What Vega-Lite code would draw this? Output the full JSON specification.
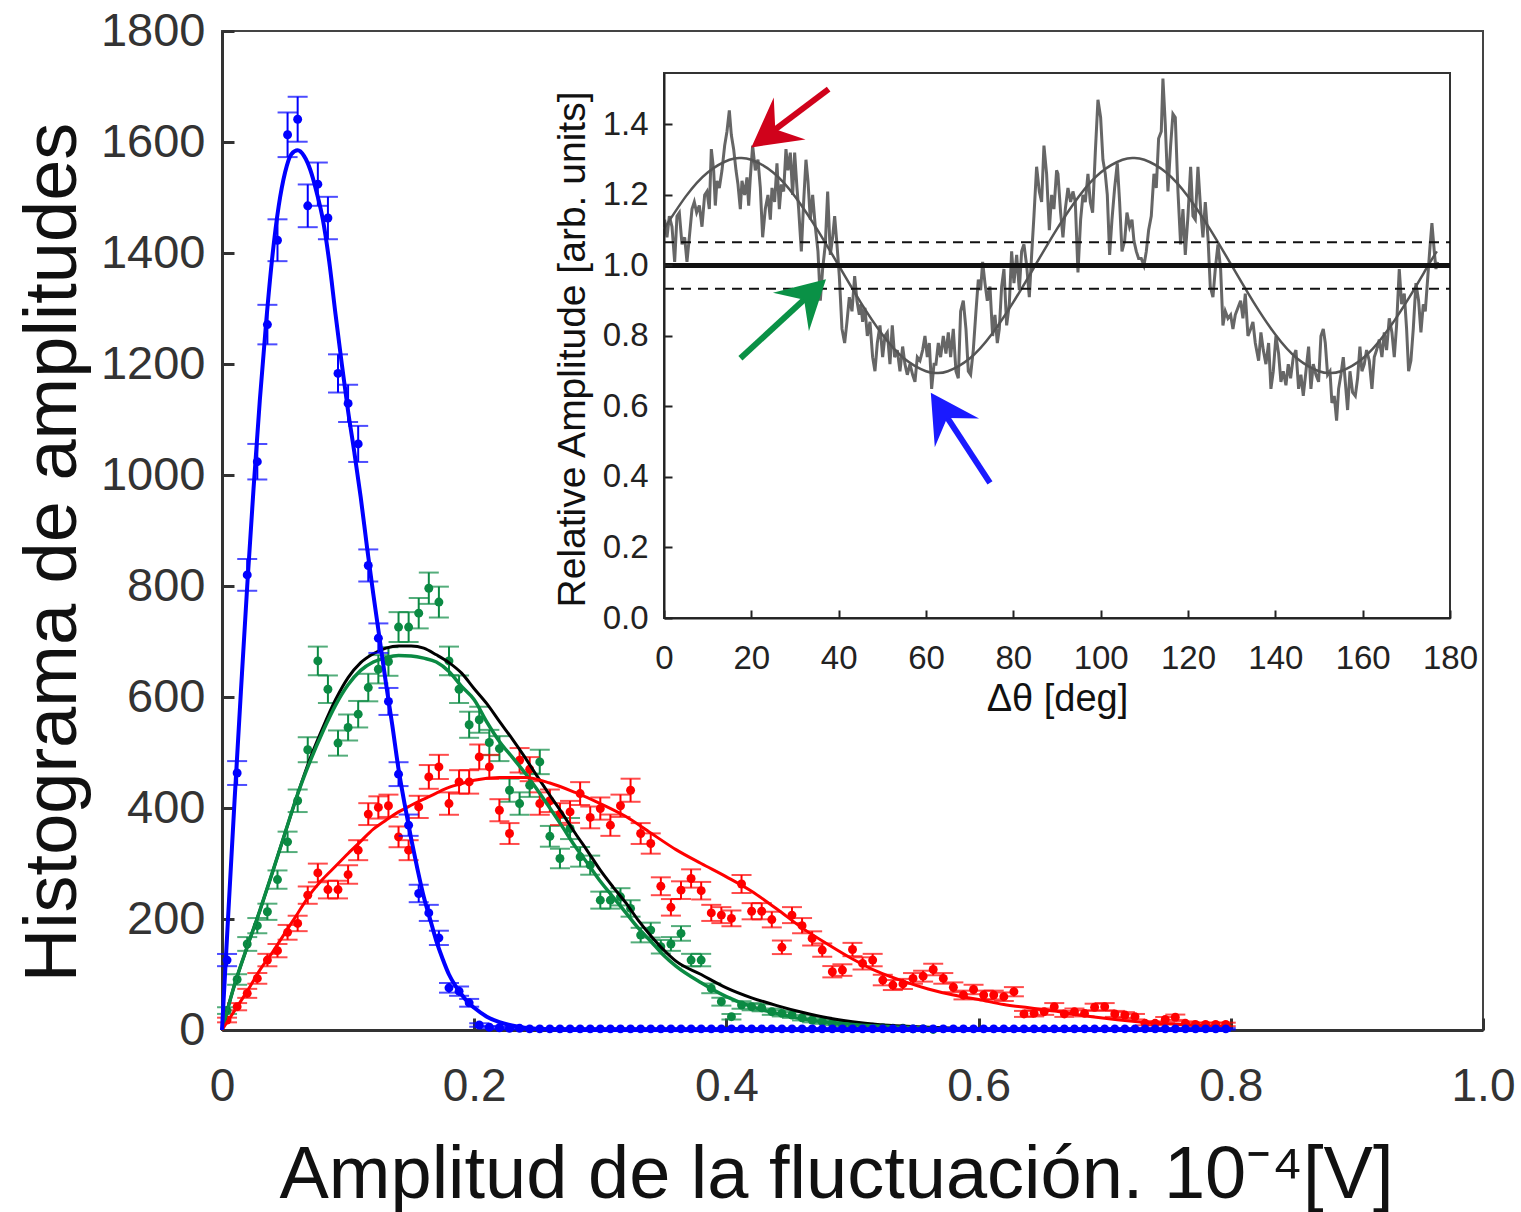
{
"$schema": "https://vega.github.io/schema/vega-lite/v6.json",
"width": 1261, "height": 999,
"autosize": {"type": "none"},
"padding": {"left": 222, "top": 31, "right": 38, "bottom": 182},
"background": "white",
"config": {"font": "Liberation Sans", "view": {"stroke": "#444", "strokeWidth": 2}},
"datasets": {
"blue": [
{"x":0.004,"y":126,"e":11},{"x":0.012,"y":463,"e":21.5},{"x":0.020,"y":820,"e":28.6},{"x":0.028,"y":1024,"e":32},{"x":0.036,"y":1271,"e":35.6},{"x":0.044,"y":1423,"e":37.7},{"x":0.052,"y":1613,"e":40.2},{"x":0.060,"y":1641,"e":40.5},{"x":0.068,"y":1485,"e":38.5},{"x":0.076,"y":1524,"e":39},
{"x":0.084,"y":1463,"e":38.2},{"x":0.092,"y":1183,"e":34.4},{"x":0.100,"y":1129,"e":33.6},{"x":0.108,"y":1056,"e":32.5},{"x":0.116,"y":837,"e":28.9},{"x":0.124,"y":706,"e":26.6},{"x":0.132,"y":592,"e":24.3},{"x":0.140,"y":461,"e":21.5},{"x":0.148,"y":369,"e":19.2},{"x":0.156,"y":246,"e":15.7},
{"x":0.164,"y":211,"e":14.5},{"x":0.172,"y":166,"e":12.9},{"x":0.180,"y":76,"e":8.7},{"x":0.188,"y":70,"e":8.4},{"x":0.196,"y":49,"e":7},{"x":0.204,"y":9,"e":3},{"x":0.212,"y":5,"e":2.2},{"x":0.220,"y":4,"e":2},{"x":0.228,"y":3,"e":1.7},{"x":0.236,"y":3,"e":1.7},
{"x":0.244,"y":2,"e":1.4},{"x":0.252,"y":2,"e":1.4},{"x":0.260,"y":2,"e":1.4},{"x":0.268,"y":2,"e":1.4},{"x":0.276,"y":2,"e":1.4},{"x":0.284,"y":2,"e":1.4},{"x":0.292,"y":2,"e":1.4},{"x":0.300,"y":2,"e":1.4},{"x":0.308,"y":2,"e":1.4},{"x":0.316,"y":2,"e":1.4},
{"x":0.324,"y":2,"e":1.4},{"x":0.332,"y":2,"e":1.4},{"x":0.340,"y":2,"e":1.4},{"x":0.348,"y":2,"e":1.4},{"x":0.356,"y":2,"e":1.4},{"x":0.364,"y":2,"e":1.4},{"x":0.372,"y":2,"e":1.4},{"x":0.380,"y":2,"e":1.4},{"x":0.388,"y":2,"e":1.4},{"x":0.396,"y":2,"e":1.4},
{"x":0.404,"y":2,"e":1.4},{"x":0.412,"y":2,"e":1.4},{"x":0.420,"y":2,"e":1.4},{"x":0.428,"y":2,"e":1.4},{"x":0.436,"y":2,"e":1.4},{"x":0.444,"y":2,"e":1.4},{"x":0.452,"y":2,"e":1.4},{"x":0.460,"y":2,"e":1.4},{"x":0.468,"y":2,"e":1.4},{"x":0.476,"y":2,"e":1.4},
{"x":0.484,"y":2,"e":1.4},{"x":0.492,"y":2,"e":1.4},{"x":0.500,"y":2,"e":1.4},{"x":0.508,"y":2,"e":1.4},{"x":0.516,"y":2,"e":1.4},{"x":0.524,"y":2,"e":1.4},{"x":0.532,"y":2,"e":1.4},{"x":0.540,"y":2,"e":1.4},{"x":0.548,"y":2,"e":1.4},{"x":0.556,"y":2,"e":1.4},
{"x":0.564,"y":2,"e":1.4},{"x":0.572,"y":2,"e":1.4},{"x":0.580,"y":2,"e":1.4},{"x":0.588,"y":2,"e":1.4},{"x":0.596,"y":2,"e":1.4},{"x":0.604,"y":2,"e":1.4},{"x":0.612,"y":2,"e":1.4},{"x":0.620,"y":2,"e":1.4},{"x":0.628,"y":2,"e":1.4},{"x":0.636,"y":2,"e":1.4},
{"x":0.644,"y":2,"e":1.4},{"x":0.652,"y":2,"e":1.4},{"x":0.660,"y":2,"e":1.4},{"x":0.668,"y":2,"e":1.4},{"x":0.676,"y":2,"e":1.4},{"x":0.684,"y":2,"e":1.4},{"x":0.692,"y":2,"e":1.4},{"x":0.700,"y":2,"e":1.4},{"x":0.708,"y":2,"e":1.4},{"x":0.716,"y":2,"e":1.4},
{"x":0.724,"y":2,"e":1.4},{"x":0.732,"y":2,"e":1.4},{"x":0.740,"y":2,"e":1.4},{"x":0.748,"y":2,"e":1.4},{"x":0.756,"y":2,"e":1.4},{"x":0.764,"y":2,"e":1.4},{"x":0.772,"y":2,"e":1.4},{"x":0.780,"y":2,"e":1.4},{"x":0.788,"y":2,"e":1.4},{"x":0.796,"y":2,"e":1.4}
],
"green": [
{"x":0.004,"y":35,"e":6},{"x":0.012,"y":91,"e":9.5},{"x":0.020,"y":155,"e":12.4},{"x":0.028,"y":188,"e":13.7},{"x":0.036,"y":213,"e":14.6},{"x":0.044,"y":271,"e":16.5},{"x":0.052,"y":339,"e":18.4},{"x":0.060,"y":413,"e":20.3},{"x":0.068,"y":505,"e":22.5},{"x":0.076,"y":665,"e":25.8},
{"x":0.084,"y":614,"e":24.8},{"x":0.092,"y":517,"e":22.7},{"x":0.100,"y":545,"e":23.3},{"x":0.108,"y":569,"e":23.9},{"x":0.116,"y":617,"e":24.8},{"x":0.124,"y":650,"e":25.5},{"x":0.132,"y":664,"e":25.8},{"x":0.140,"y":726,"e":26.9},{"x":0.148,"y":726,"e":26.9},{"x":0.156,"y":751,"e":27.4},
{"x":0.164,"y":796,"e":28.2},{"x":0.172,"y":771,"e":27.8},{"x":0.180,"y":665,"e":25.8},{"x":0.188,"y":614,"e":24.8},{"x":0.196,"y":550,"e":23.5},{"x":0.204,"y":559,"e":23.6},{"x":0.212,"y":518,"e":22.8},{"x":0.220,"y":507,"e":22.5},{"x":0.228,"y":432,"e":20.8},{"x":0.236,"y":408,"e":20.2},
{"x":0.244,"y":441,"e":21},{"x":0.252,"y":483,"e":22},{"x":0.260,"y":349,"e":18.7},{"x":0.268,"y":309,"e":17.6},{"x":0.276,"y":363,"e":19},{"x":0.284,"y":312,"e":17.7},{"x":0.292,"y":297,"e":17.2},{"x":0.300,"y":234,"e":15.3},{"x":0.308,"y":234,"e":15.3},{"x":0.316,"y":240,"e":15.5},
{"x":0.324,"y":219,"e":14.8},{"x":0.332,"y":171,"e":13.1},{"x":0.340,"y":180,"e":13.4},{"x":0.348,"y":150,"e":12.2},{"x":0.356,"y":155,"e":12.4},{"x":0.364,"y":174,"e":13.2},{"x":0.372,"y":126,"e":11.2},{"x":0.380,"y":126,"e":11.2},{"x":0.388,"y":75,"e":8.7},{"x":0.396,"y":51,"e":7.1},
{"x":0.404,"y":24,"e":4.9},{"x":0.412,"y":45,"e":6.7},{"x":0.420,"y":42,"e":6.5},{"x":0.428,"y":40,"e":6.3},{"x":0.436,"y":33,"e":5.7},{"x":0.444,"y":30,"e":5.5},{"x":0.452,"y":27,"e":5.2},{"x":0.460,"y":22,"e":4.7},{"x":0.468,"y":18,"e":4.2},{"x":0.476,"y":15,"e":3.9},
{"x":0.484,"y":12,"e":3.5},{"x":0.492,"y":10,"e":3.2},{"x":0.500,"y":8,"e":2.8},{"x":0.508,"y":6,"e":2.4},{"x":0.516,"y":5,"e":2.2},{"x":0.524,"y":4,"e":2},{"x":0.532,"y":3,"e":1.7},{"x":0.540,"y":3,"e":1.7},{"x":0.548,"y":2,"e":1.4},{"x":0.556,"y":2,"e":1.4},{"x":0.564,"y":1,"e":1}
],
"red": [
{"x":0.004,"y":18,"e":4.2},{"x":0.012,"y":42,"e":6.5},{"x":0.020,"y":66,"e":8.1},{"x":0.028,"y":93,"e":9.6},{"x":0.036,"y":126,"e":11.2},{"x":0.044,"y":143,"e":12},{"x":0.052,"y":176,"e":13.3},{"x":0.060,"y":192,"e":13.9},{"x":0.068,"y":243,"e":15.6},{"x":0.076,"y":283,"e":16.8},
{"x":0.084,"y":253,"e":15.9},{"x":0.092,"y":253,"e":15.9},{"x":0.100,"y":280,"e":16.7},{"x":0.108,"y":324,"e":18},{"x":0.116,"y":389,"e":19.7},{"x":0.124,"y":401,"e":20},{"x":0.132,"y":404,"e":20.1},{"x":0.140,"y":348,"e":18.7},{"x":0.148,"y":324,"e":18},{"x":0.156,"y":402,"e":20},
{"x":0.164,"y":456,"e":21.4},{"x":0.172,"y":474,"e":21.8},{"x":0.180,"y":408,"e":20.2},{"x":0.188,"y":447,"e":21.1},{"x":0.196,"y":447,"e":21.1},{"x":0.204,"y":492,"e":22.2},{"x":0.212,"y":474,"e":21.8},{"x":0.220,"y":396,"e":19.9},{"x":0.228,"y":354,"e":18.8},{"x":0.236,"y":486,"e":22},
{"x":0.244,"y":470,"e":21.7},{"x":0.252,"y":408,"e":20.2},{"x":0.260,"y":413,"e":20.3},{"x":0.268,"y":389,"e":19.7},{"x":0.276,"y":393,"e":19.8},{"x":0.284,"y":426,"e":20.6},{"x":0.292,"y":383,"e":19.6},{"x":0.300,"y":399,"e":20},{"x":0.308,"y":369,"e":19.2},{"x":0.316,"y":404,"e":20.1},
{"x":0.324,"y":432,"e":20.8},{"x":0.332,"y":354,"e":18.8},{"x":0.340,"y":336,"e":18.3},{"x":0.348,"y":259,"e":16.1},{"x":0.356,"y":221,"e":14.9},{"x":0.364,"y":252,"e":15.9},{"x":0.372,"y":273,"e":16.5},{"x":0.380,"y":251,"e":15.8},{"x":0.388,"y":211,"e":14.5},{"x":0.396,"y":207,"e":14.4},
{"x":0.404,"y":201,"e":14.2},{"x":0.412,"y":263,"e":16.2},{"x":0.420,"y":214,"e":14.6},{"x":0.428,"y":214,"e":14.6},{"x":0.436,"y":199,"e":14.1},{"x":0.444,"y":149,"e":12.2},{"x":0.452,"y":207,"e":14.4},{"x":0.460,"y":188,"e":13.7},{"x":0.468,"y":165,"e":12.8},{"x":0.476,"y":144,"e":12},
{"x":0.484,"y":105,"e":10.2},{"x":0.492,"y":108,"e":10.4},{"x":0.500,"y":145,"e":12},{"x":0.508,"y":120,"e":11},{"x":0.516,"y":126,"e":11.2},{"x":0.524,"y":90,"e":9.5},{"x":0.532,"y":81,"e":9},{"x":0.540,"y":83,"e":9.1},{"x":0.548,"y":93,"e":9.6},{"x":0.556,"y":97,"e":9.8},
{"x":0.564,"y":109,"e":10.4},{"x":0.572,"y":93,"e":9.6},{"x":0.580,"y":77,"e":8.8},{"x":0.588,"y":63,"e":7.9},{"x":0.596,"y":73,"e":8.5},{"x":0.604,"y":63,"e":7.9},{"x":0.612,"y":63,"e":7.9},{"x":0.620,"y":60,"e":7.7},{"x":0.628,"y":69,"e":8.3},{"x":0.636,"y":29,"e":5.4},
{"x":0.644,"y":30,"e":5.5},{"x":0.652,"y":33,"e":5.7},{"x":0.660,"y":42,"e":6.5},{"x":0.668,"y":29,"e":5.4},{"x":0.676,"y":33,"e":5.7},{"x":0.684,"y":30,"e":5.5},{"x":0.692,"y":41,"e":6.4},{"x":0.700,"y":42,"e":6.5},{"x":0.708,"y":29,"e":5.4},{"x":0.716,"y":27,"e":5.2},
{"x":0.724,"y":24,"e":4.9},{"x":0.732,"y":12,"e":3.5},{"x":0.740,"y":12,"e":3.5},{"x":0.748,"y":19,"e":4.4},{"x":0.756,"y":23,"e":4.8},{"x":0.764,"y":12,"e":3.5},{"x":0.772,"y":10,"e":3.2},{"x":0.780,"y":10,"e":3.2},{"x":0.788,"y":10,"e":3.2},{"x":0.796,"y":10,"e":3.2}
],
"fitBlue": [
{"x":0,"y":0},{"x":0.005,"y":210},{"x":0.01,"y":415},{"x":0.015,"y":610},{"x":0.02,"y":800},{"x":0.025,"y":975},{"x":0.03,"y":1135},{"x":0.035,"y":1275},{"x":0.04,"y":1395},{"x":0.045,"y":1485},{"x":0.05,"y":1545},{"x":0.055,"y":1578},{"x":0.06,"y":1585},{"x":0.065,"y":1575},{"x":0.07,"y":1550},{"x":0.075,"y":1510},{"x":0.08,"y":1460},{"x":0.085,"y":1385},{"x":0.09,"y":1290},{"x":0.095,"y":1200},{"x":0.1,"y":1115},{"x":0.105,"y":1040},{"x":0.11,"y":960},{"x":0.115,"y":870},{"x":0.12,"y":785},{"x":0.125,"y":705},{"x":0.13,"y":625},{"x":0.135,"y":550},{"x":0.14,"y":470},{"x":0.145,"y":405},{"x":0.15,"y":345},{"x":0.155,"y":290},{"x":0.16,"y":240},{"x":0.165,"y":200},{"x":0.17,"y":160},{"x":0.175,"y":128},{"x":0.18,"y":100},{"x":0.185,"y":80},{"x":0.19,"y":64},{"x":0.195,"y":50},{"x":0.2,"y":40},{"x":0.21,"y":24},{"x":0.22,"y":14},{"x":0.23,"y":8},{"x":0.24,"y":4},{"x":0.26,"y":1},{"x":0.3,"y":0},{"x":0.8,"y":0}
],
"fitGreen": [
{"x":0,"y":0},{"x":0.01,"y":82},{"x":0.02,"y":150},{"x":0.03,"y":215},{"x":0.04,"y":284},{"x":0.05,"y":355},{"x":0.06,"y":425},{"x":0.07,"y":485},{"x":0.08,"y":538},{"x":0.09,"y":585},{"x":0.1,"y":622},{"x":0.11,"y":648},{"x":0.12,"y":663},{"x":0.13,"y":671},{"x":0.14,"y":675},{"x":0.15,"y":674},{"x":0.16,"y":670},{"x":0.17,"y":663},{"x":0.18,"y":646},{"x":0.19,"y":619},{"x":0.2,"y":595},{"x":0.21,"y":555},{"x":0.22,"y":520},{"x":0.23,"y":492},{"x":0.24,"y":464},{"x":0.25,"y":433},{"x":0.26,"y":400},{"x":0.27,"y":366},{"x":0.28,"y":331},{"x":0.29,"y":300},{"x":0.3,"y":268},{"x":0.31,"y":240},{"x":0.32,"y":212},{"x":0.33,"y":184},{"x":0.34,"y":160},{"x":0.35,"y":135},{"x":0.36,"y":115},{"x":0.38,"y":85},{"x":0.4,"y":60},{"x":0.42,"y":42},{"x":0.44,"y":30},{"x":0.46,"y":20},{"x":0.48,"y":14},{"x":0.5,"y":10},{"x":0.52,"y":7},{"x":0.54,"y":5},{"x":0.56,"y":3},{"x":0.6,"y":1},{"x":0.8,"y":0}
],
"fitBlack": [
{"x":0,"y":0},{"x":0.01,"y":82},{"x":0.02,"y":150},{"x":0.03,"y":215},{"x":0.04,"y":284},{"x":0.05,"y":355},{"x":0.06,"y":425},{"x":0.07,"y":490},{"x":0.08,"y":545},{"x":0.09,"y":595},{"x":0.1,"y":635},{"x":0.11,"y":662},{"x":0.12,"y":678},{"x":0.13,"y":688},{"x":0.14,"y":692},{"x":0.15,"y":692},{"x":0.16,"y":688},{"x":0.17,"y":676},{"x":0.18,"y":662},{"x":0.19,"y":643},{"x":0.2,"y":615},{"x":0.21,"y":588},{"x":0.22,"y":556},{"x":0.23,"y":525},{"x":0.24,"y":492},{"x":0.25,"y":457},{"x":0.26,"y":423},{"x":0.27,"y":390},{"x":0.28,"y":355},{"x":0.29,"y":322},{"x":0.3,"y":288},{"x":0.31,"y":258},{"x":0.32,"y":230},{"x":0.33,"y":198},{"x":0.34,"y":170},{"x":0.35,"y":145},{"x":0.36,"y":124},{"x":0.38,"y":100},{"x":0.4,"y":76},{"x":0.42,"y":58},{"x":0.44,"y":44},{"x":0.46,"y":32},{"x":0.48,"y":22},{"x":0.5,"y":15},{"x":0.52,"y":10},{"x":0.54,"y":7},{"x":0.56,"y":5},{"x":0.6,"y":2},{"x":0.64,"y":1},{"x":0.8,"y":0}
],
"fitRed": [
{"x":0,"y":0},{"x":0.01,"y":35},{"x":0.02,"y":70},{"x":0.03,"y":108},{"x":0.04,"y":140},{"x":0.05,"y":175},{"x":0.06,"y":210},{"x":0.07,"y":245},{"x":0.08,"y":272},{"x":0.09,"y":295},{"x":0.1,"y":318},{"x":0.11,"y":340},{"x":0.12,"y":362},{"x":0.13,"y":378},{"x":0.14,"y":393},{"x":0.15,"y":405},{"x":0.16,"y":416},{"x":0.17,"y":427},{"x":0.18,"y":437},{"x":0.19,"y":444},{"x":0.2,"y":450},{"x":0.22,"y":455},{"x":0.24,"y":455},{"x":0.26,"y":445},{"x":0.28,"y":428},{"x":0.3,"y":408},{"x":0.32,"y":385},{"x":0.34,"y":355},{"x":0.36,"y":325},{"x":0.38,"y":300},{"x":0.4,"y":276},{"x":0.42,"y":250},{"x":0.44,"y":218},{"x":0.46,"y":184},{"x":0.48,"y":155},{"x":0.5,"y":128},{"x":0.52,"y":105},{"x":0.54,"y":88},{"x":0.56,"y":74},{"x":0.58,"y":63},{"x":0.6,"y":55},{"x":0.62,"y":46},{"x":0.64,"y":40},{"x":0.66,"y":34},{"x":0.68,"y":27},{"x":0.7,"y":21},{"x":0.72,"y":16},{"x":0.74,"y":12},{"x":0.76,"y":10},{"x":0.78,"y":8},{"x":0.8,"y":7}
],
"sine": [
{"t":0,"v":1.104},{"t":5,"v":1.196},{"t":10,"v":1.264},{"t":15,"v":1.300},{"t":17.5,"v":1.305},{"t":20,"v":1.300},{"t":25,"v":1.264},{"t":30,"v":1.196},{"t":35,"v":1.104},{"t":40,"v":1.0},{"t":45,"v":0.896},{"t":50,"v":0.804},{"t":55,"v":0.736},{"t":60,"v":0.700},{"t":62.5,"v":0.695},{"t":65,"v":0.700},{"t":70,"v":0.736},{"t":75,"v":0.804},{"t":80,"v":0.896},{"t":85,"v":1.0},{"t":90,"v":1.104},{"t":95,"v":1.196},{"t":100,"v":1.264},{"t":105,"v":1.300},{"t":107.5,"v":1.305},{"t":110,"v":1.300},{"t":115,"v":1.264},{"t":120,"v":1.196},{"t":125,"v":1.104},{"t":130,"v":1.0},{"t":135,"v":0.896},{"t":140,"v":0.804},{"t":145,"v":0.736},{"t":150,"v":0.700},{"t":152.5,"v":0.695},{"t":155,"v":0.700},{"t":160,"v":0.736},{"t":165,"v":0.804},{"t":170,"v":0.896},{"t":175,"v":1.0},{"t":177,"v":1.04}
],
"noise": [
{"t":0.15,"v":1.13},{"t":0.68,"v":1.08},{"t":1.22,"v":1.14},{"t":1.83,"v":1.11},{"t":2.44,"v":1.01},{"t":2.97,"v":1.14},{"t":3.51,"v":1.15},{"t":4.12,"v":1.06},{"t":4.73,"v":1.08},{"t":5.26,"v":1.01},{"t":5.80,"v":1.08},{"t":6.41,"v":1.16},{"t":6.94,"v":1.18},{"t":7.48,"v":1.15},{"t":8.09,"v":1.17},{"t":8.70,"v":1.11},{"t":9.31,"v":1.20},{"t":9.84,"v":1.21},{"t":10.38,"v":1.16},{"t":10.84,"v":1.33},{"t":11.37,"v":1.27},{"t":11.75,"v":1.17},{"t":12.13,"v":1.24},{"t":12.67,"v":1.22},{"t":13.28,"v":1.27},{"t":13.89,"v":1.34},{"t":14.42,"v":1.38},{"t":14.96,"v":1.44},{"t":15.42,"v":1.37},{"t":15.95,"v":1.33},{"t":16.49,"v":1.27},{"t":16.94,"v":1.23},{"t":17.48,"v":1.16},{"t":17.86,"v":1.24},{"t":18.47,"v":1.20},{"t":19.00,"v":1.25},{"t":19.39,"v":1.17},{"t":19.77,"v":1.25},{"t":20.30,"v":1.34},{"t":20.91,"v":1.27},{"t":21.52,"v":1.30},{"t":22.06,"v":1.22},{"t":22.59,"v":1.08},{"t":23.20,"v":1.16},{"t":23.81,"v":1.20},{"t":24.35,"v":1.13},{"t":24.73,"v":1.22},{"t":25.34,"v":1.18},{"t":25.87,"v":1.29},{"t":26.41,"v":1.16},{"t":26.87,"v":1.23},{"t":27.40,"v":1.21},{"t":27.93,"v":1.33},{"t":28.39,"v":1.27},{"t":28.93,"v":1.32},{"t":29.46,"v":1.20},{"t":29.92,"v":1.32},{"t":30.45,"v":1.22},{"t":30.84,"v":1.16},{"t":31.45,"v":1.04},{"t":31.98,"v":1.18},{"t":32.51,"v":1.30},{"t":32.97,"v":1.24},{"t":33.51,"v":1.13},{"t":34.04,"v":1.20},{"t":34.65,"v":1.11},{"t":35.26,"v":1.04},{"t":35.80,"v":0.90},{"t":36.33,"v":0.99},{"t":36.94,"v":1.06},{"t":37.48,"v":1.21},{"t":38.09,"v":1.03},{"t":38.62,"v":1.08},{"t":39.08,"v":1.14},{"t":39.61,"v":1.06},{"t":40.15,"v":0.97},{"t":40.76,"v":0.82},{"t":41.37,"v":0.78},{"t":41.90,"v":0.84},{"t":42.44,"v":0.91},{"t":43.05,"v":0.87},{"t":43.66,"v":0.97},{"t":44.19,"v":0.90},{"t":44.73,"v":0.86},
{"t":45.10,"v":0.89},{"t":45.49,"v":0.84},{"t":46.02,"v":0.88},{"t":46.56,"v":0.80},{"t":47.17,"v":0.84},{"t":47.78,"v":0.74},{"t":48.31,"v":0.70},{"t":48.85,"v":0.78},{"t":49.46,"v":0.83},{"t":50.07,"v":0.74},{"t":50.60,"v":0.80},{"t":51.14,"v":0.81},{"t":51.75,"v":0.72},{"t":52.28,"v":0.83},{"t":52.82,"v":0.74},{"t":53.43,"v":0.76},{"t":54.04,"v":0.70},{"t":54.65,"v":0.77},{"t":55.18,"v":0.72},{"t":55.72,"v":0.69},{"t":56.33,"v":0.72},{"t":56.94,"v":0.69},{"t":57.47,"v":0.67},{"t":58.01,"v":0.74},{"t":58.62,"v":0.73},{"t":59.23,"v":0.76},{"t":59.76,"v":0.80},{"t":60.30,"v":0.74},{"t":60.76,"v":0.78},{"t":61.29,"v":0.65},{"t":61.83,"v":0.72},{"t":62.28,"v":0.72},{"t":62.82,"v":0.78},{"t":63.35,"v":0.74},{"t":63.96,"v":0.80},{"t":64.57,"v":0.75},{"t":65.11,"v":0.81},{"t":65.64,"v":0.74},{"t":66.25,"v":0.82},{"t":66.86,"v":0.70},{"t":67.40,"v":0.68},{"t":67.93,"v":0.87},{"t":68.54,"v":0.90},{"t":69.15,"v":0.82},{"t":69.69,"v":0.70},{"t":70.22,"v":0.69},{"t":70.83,"v":0.76},{"t":71.44,"v":0.87},{"t":71.98,"v":0.96},{"t":72.51,"v":0.93},{"t":72.97,"v":1.01},{"t":73.50,"v":0.95},{"t":74.04,"v":0.90},{"t":74.65,"v":0.94},{"t":75.26,"v":0.80},{"t":75.79,"v":0.86},{"t":76.33,"v":0.78},{"t":76.79,"v":0.82},{"t":77.32,"v":0.94},{"t":77.85,"v":0.99},{"t":78.47,"v":0.83},{"t":79.08,"v":0.89},{"t":79.61,"v":1.04},{"t":80.14,"v":0.95},{"t":80.76,"v":1.03},{"t":81.37,"v":0.93},{"t":81.90,"v":1.04},{"t":82.43,"v":1.06},{"t":83.05,"v":1.00},{"t":83.66,"v":0.91},{"t":84.19,"v":1.03},{"t":84.72,"v":1.14},{"t":85.33,"v":1.28},{"t":85.95,"v":1.21},{"t":86.48,"v":1.18},{"t":87.01,"v":1.34},{"t":87.62,"v":1.26},{"t":88.24,"v":1.10},{"t":88.77,"v":1.20},{"t":89.30,"v":1.16},{"t":89.91,"v":1.27},
{"t":90.22,"v":1.26},{"t":90.83,"v":1.15},{"t":91.36,"v":1.08},{"t":91.90,"v":1.16},{"t":92.51,"v":1.22},{"t":93.12,"v":1.18},{"t":93.65,"v":1.21},{"t":94.19,"v":1.18},{"t":94.80,"v":0.98},{"t":95.41,"v":1.13},{"t":95.94,"v":1.20},{"t":96.48,"v":1.18},{"t":97.09,"v":1.26},{"t":97.62,"v":1.18},{"t":98.16,"v":1.15},{"t":98.77,"v":1.32},{"t":99.38,"v":1.47},{"t":99.99,"v":1.42},{"t":100.52,"v":1.30},{"t":101.06,"v":1.26},{"t":101.52,"v":1.20},{"t":102.05,"v":1.03},{"t":102.59,"v":1.13},{"t":103.20,"v":1.22},{"t":103.81,"v":1.29},{"t":104.34,"v":1.18},{"t":104.88,"v":1.04},{"t":105.49,"v":1.07},{"t":106.02,"v":1.15},{"t":106.63,"v":1.11},{"t":107.17,"v":1.13},{"t":107.62,"v":1.07},{"t":108.16,"v":1.04},{"t":108.69,"v":1.02},{"t":109.30,"v":1.02},{"t":109.91,"v":1.00},{"t":110.45,"v":1.04},{"t":110.98,"v":1.10},{"t":111.59,"v":1.14},{"t":112.20,"v":1.26},{"t":112.74,"v":1.22},{"t":113.27,"v":1.36},{"t":113.88,"v":1.38},{"t":114.26,"v":1.53},{"t":114.80,"v":1.40},{"t":115.41,"v":1.21},{"t":116.02,"v":1.34},{"t":116.55,"v":1.43},{"t":117.09,"v":1.42},{"t":117.70,"v":1.21},{"t":118.31,"v":1.06},{"t":118.84,"v":1.16},{"t":119.38,"v":1.03},{"t":119.99,"v":1.14},{"t":120.60,"v":1.28},{"t":121.13,"v":1.14},{"t":121.67,"v":1.13},{"t":122.28,"v":1.28},{"t":122.89,"v":1.16},{"t":123.42,"v":1.08},{"t":123.96,"v":1.18},{"t":124.57,"v":1.08},{"t":125.10,"v":0.94},{"t":125.71,"v":0.91},{"t":126.25,"v":0.99},{"t":126.86,"v":1.06},{"t":127.47,"v":0.99},{"t":128.00,"v":0.83},{"t":128.54,"v":0.87},{"t":129.15,"v":0.85},{"t":129.76,"v":0.86},{"t":130.29,"v":0.82},{"t":130.83,"v":0.86},{"t":131.44,"v":0.88},{"t":132.05,"v":0.90},{"t":132.58,"v":0.85},{"t":133.12,"v":0.92},{"t":133.73,"v":0.80},{"t":134.34,"v":0.82},{"t":134.87,"v":0.84},{"t":135.41,"v":0.78},
{"t":136.17,"v":0.73},{"t":136.70,"v":0.81},{"t":137.24,"v":0.76},{"t":137.85,"v":0.72},{"t":138.46,"v":0.78},{"t":138.99,"v":0.65},{"t":139.53,"v":0.70},{"t":140.14,"v":0.80},{"t":140.75,"v":0.75},{"t":141.28,"v":0.67},{"t":141.82,"v":0.70},{"t":142.43,"v":0.66},{"t":142.96,"v":0.72},{"t":143.50,"v":0.68},{"t":144.11,"v":0.74},{"t":144.72,"v":0.76},{"t":145.33,"v":0.65},{"t":145.86,"v":0.69},{"t":146.40,"v":0.63},{"t":147.01,"v":0.70},{"t":147.62,"v":0.77},{"t":148.15,"v":0.65},{"t":148.69,"v":0.72},{"t":149.30,"v":0.69},{"t":149.91,"v":0.67},{"t":150.44,"v":0.80},{"t":150.98,"v":0.82},{"t":151.44,"v":0.78},{"t":151.97,"v":0.69},{"t":152.51,"v":0.70},{"t":152.96,"v":0.61},{"t":153.50,"v":0.63},{"t":154.03,"v":0.56},{"t":154.49,"v":0.65},{"t":155.02,"v":0.69},{"t":155.56,"v":0.74},{"t":156.02,"v":0.67},{"t":156.55,"v":0.59},{"t":157.09,"v":0.70},{"t":157.70,"v":0.64},{"t":158.31,"v":0.63},{"t":158.84,"v":0.68},{"t":159.37,"v":0.77},{"t":159.83,"v":0.70},{"t":160.37,"v":0.72},{"t":160.90,"v":0.76},{"t":161.51,"v":0.73},{"t":162.12,"v":0.65},{"t":162.66,"v":0.74},{"t":163.19,"v":0.76},{"t":163.80,"v":0.79},{"t":164.41,"v":0.74},{"t":164.95,"v":0.81},{"t":165.48,"v":0.76},{"t":166.09,"v":0.85},{"t":166.70,"v":0.81},{"t":167.24,"v":0.74},{"t":167.77,"v":0.83},{"t":168.38,"v":0.99},{"t":168.92,"v":0.89},{"t":169.53,"v":0.92},{"t":170.06,"v":0.82},{"t":170.52,"v":0.70},{"t":171.05,"v":0.73},{"t":171.59,"v":0.82},{"t":172.20,"v":0.95},{"t":172.81,"v":0.90},{"t":173.34,"v":0.81},{"t":173.88,"v":0.89},{"t":174.34,"v":0.87},{"t":174.87,"v":0.96},{"t":175.40,"v":1.05},{"t":175.86,"v":1.12},{"t":176.40,"v":1.04},{"t":176.78,"v":0.99},{"t":177.16,"v":1.01}
],
"arrows": [
{"a":"red","t":37.7,"v":1.500,"t2":23.65,"v2":1.369,"ht":20.0,"hv":1.335},
{"a":"green","t":17.5,"v":0.737,"t2":33.73,"v2":0.922,"ht":37.1,"hv":0.961},
{"a":"blue","t":74.65,"v":0.383,"t2":63.64,"v2":0.592,"ht":61.1,"hv":0.639}
]
},
"layer": [
{
"encoding": {
"x": {"field": "x", "type": "quantitative", "scale": {"domain": [0, 1], "nice": false, "zero": false},
 "axis": {"values": [0, 0.2, 0.4, 0.6, 0.8, 1], "labelExpr": "datum.value == 0 ? '0' : format(datum.value, '.1f')", "labelFlush": false, "labelFontSize": 46, "labelColor": "#333", "labelPadding": 46, "tickSize": -12, "tickWidth": 3, "tickColor": "#333", "domainColor": "#333", "domainWidth": 3, "grid": false,
 "title": "Amplitud de la fluctuación. 10⁻⁴[V]", "titleFontSize": 74, "titleFontWeight": "normal", "titleColor": "#111", "titleX": 614, "titleY": 167, "titleAlign": "center", "titleBaseline": "alphabetic"}},
"y": {"field": "y", "type": "quantitative", "scale": {"domain": [0, 1800], "nice": false, "zero": false},
 "axis": {"values": [0, 200, 400, 600, 800, 1000, 1200, 1400, 1600, 1800], "format": "d", "labelFlush": false, "labelFontSize": 47, "labelColor": "#333", "labelPadding": 29, "tickSize": -12, "tickWidth": 3, "tickColor": "#333", "domainColor": "#333", "domainWidth": 3, "grid": false,
 "title": "Histograma de amplitudes", "titleFontSize": 74, "titleFontWeight": "normal", "titleColor": "#111", "titleX": -147, "titleY": 521, "titleAngle": -90, "titleAlign": "center", "titleBaseline": "alphabetic"}}
},
"layer": [
{"data": {"name": "green"}, "mark": {"type": "errorbar", "color": "#0b8a43", "ticks": true, "size": 20, "thickness": 2}, "encoding": {"yError": {"field": "e"}}},
{"data": {"name": "red"}, "mark": {"type": "errorbar", "color": "#ff0000", "ticks": true, "size": 20, "thickness": 2}, "encoding": {"yError": {"field": "e"}}},
{"data": {"name": "green"}, "mark": {"type": "circle", "size": 80, "color": "#0b8a43", "opacity": 1}},
{"data": {"name": "red"}, "mark": {"type": "circle", "size": 80, "color": "#ff0000", "opacity": 1}},
{"data": {"name": "fitBlack"}, "mark": {"type": "line", "color": "#000000", "strokeWidth": 3, "interpolate": "monotone"}},
{"data": {"name": "fitGreen"}, "mark": {"type": "line", "color": "#0b8a43", "strokeWidth": 3.5, "interpolate": "monotone"}},
{"data": {"name": "fitRed"}, "mark": {"type": "line", "color": "#ff0000", "strokeWidth": 3, "interpolate": "monotone"}},
{"data": {"name": "fitBlue"}, "mark": {"type": "line", "color": "#0000ff", "strokeWidth": 4, "interpolate": "monotone"}},
{"data": {"name": "blue"}, "mark": {"type": "errorbar", "color": "#0000ff", "ticks": true, "size": 20, "thickness": 2}, "encoding": {"yError": {"field": "e"}}},
{"data": {"name": "blue"}, "mark": {"type": "circle", "size": 80, "color": "#0000ff", "opacity": 1}}
]
},
{
"layer": [
{"data": {"name": "noise"}, "mark": {"type": "line", "color": "#666666", "strokeWidth": 3},
 "encoding": {
 "x": {"field": "t", "type": "quantitative", "scale": {"domain": [0, 180], "range": [442, 1228], "nice": false, "zero": false},
  "axis": {"orient": "bottom", "offset": -412, "zindex": 1, "values": [0, 20, 40, 60, 80, 100, 120, 140, 160, 180], "labelFlush": false, "labelFontSize": 33, "labelColor": "#222", "labelPadding": 32, "tickSize": -8, "tickWidth": 2, "tickColor": "#222", "domainColor": "#222", "domainWidth": 2, "grid": false,
  "title": "Δθ [deg]", "titleFontSize": 38, "titleFontWeight": "normal", "titleColor": "#111", "titleX": 835, "titleY": 92, "titleAlign": "center", "titleBaseline": "alphabetic"}},
 "y": {"field": "v", "type": "quantitative", "scale": {"domain": [0, 1.546], "range": [587, 42], "nice": false, "zero": false},
  "axis": {"orient": "left", "offset": -442, "zindex": 1, "values": [0, 0.2, 0.4, 0.6, 0.8, 1.0, 1.2, 1.4], "format": ".1f", "labelFlush": false, "labelFontSize": 33, "labelColor": "#222", "labelPadding": 24, "tickSize": -8, "tickWidth": 2, "tickColor": "#222", "domainColor": "#222", "domainWidth": 2, "grid": false,
  "title": "Relative Amplitude [arb. units]", "titleFontSize": 39, "titleFontWeight": "normal", "titleColor": "#111", "titleX": -80, "titleY": 318, "titleAngle": -90, "titleAlign": "center", "titleBaseline": "alphabetic"}}
 }},
{"data": {"values": [{}]}, "mark": {"type": "rect", "filled": false, "fill": null, "stroke": "#333", "strokeWidth": 2},
 "encoding": {"x": {"datum": 0, "type": "quantitative"}, "x2": {"datum": 180}, "y": {"datum": 0, "type": "quantitative"}, "y2": {"datum": 1.546}}},
{"data": {"name": "sine"}, "mark": {"type": "line", "color": "#555555", "strokeWidth": 2.5, "interpolate": "natural"},
 "encoding": {"x": {"field": "t", "type": "quantitative"}, "y": {"field": "v", "type": "quantitative"}}},
{"data": {"values": [{}]}, "mark": {"type": "rule", "color": "#111", "strokeWidth": 2, "strokeDash": [10, 7]},
 "encoding": {"x": {"datum": 0, "type": "quantitative"}, "x2": {"datum": 180}, "y": {"datum": 1.066, "type": "quantitative"}}},
{"data": {"values": [{}]}, "mark": {"type": "rule", "color": "#111", "strokeWidth": 2, "strokeDash": [10, 7]},
 "encoding": {"x": {"datum": 0, "type": "quantitative"}, "x2": {"datum": 180}, "y": {"datum": 0.934, "type": "quantitative"}}},
{"data": {"values": [{}]}, "mark": {"type": "rule", "color": "#111", "strokeWidth": 5},
 "encoding": {"x": {"datum": 0, "type": "quantitative"}, "x2": {"datum": 180}, "y": {"datum": 1.0, "type": "quantitative"}}},
{"data": {"name": "arrows"}, "mark": {"type": "rule", "strokeWidth": 6},
 "encoding": {"x": {"field": "t", "type": "quantitative"}, "y": {"field": "v", "type": "quantitative"}, "x2": {"field": "t2"}, "y2": {"field": "v2"},
 "color": {"field": "a", "type": "nominal", "scale": {"domain": ["red", "green", "blue"], "range": ["#d0021b", "#0a9146", "#1a1aff"]}, "legend": null}}},
{"data": {"name": "arrows"}, "transform": [{"filter": "datum.a == 'red'"}], "mark": {"type": "point", "shape": "M0,0L1.1,2L0,1.25L-1.1,2Z", "size": 2300, "filled": true, "opacity": 1, "color": "#d0021b", "angle": 233, "strokeWidth": 0},
 "encoding": {"x": {"field": "ht", "type": "quantitative"}, "y": {"field": "hv", "type": "quantitative"}}},
{"data": {"name": "arrows"}, "transform": [{"filter": "datum.a == 'green'"}], "mark": {"type": "point", "shape": "M0,0L1.1,2L0,1.25L-1.1,2Z", "size": 2300, "filled": true, "opacity": 1, "color": "#0a9146", "angle": 47, "strokeWidth": 0},
 "encoding": {"x": {"field": "ht", "type": "quantitative"}, "y": {"field": "hv", "type": "quantitative"}}},
{"data": {"name": "arrows"}, "transform": [{"filter": "datum.a == 'blue'"}], "mark": {"type": "point", "shape": "M0,0L1.1,2L0,1.25L-1.1,2Z", "size": 2300, "filled": true, "opacity": 1, "color": "#1a1aff", "angle": 327, "strokeWidth": 0},
 "encoding": {"x": {"field": "ht", "type": "quantitative"}, "y": {"field": "hv", "type": "quantitative"}}}
]
}
],
"resolve": {"scale": {"x": "independent", "y": "independent"}}
}
